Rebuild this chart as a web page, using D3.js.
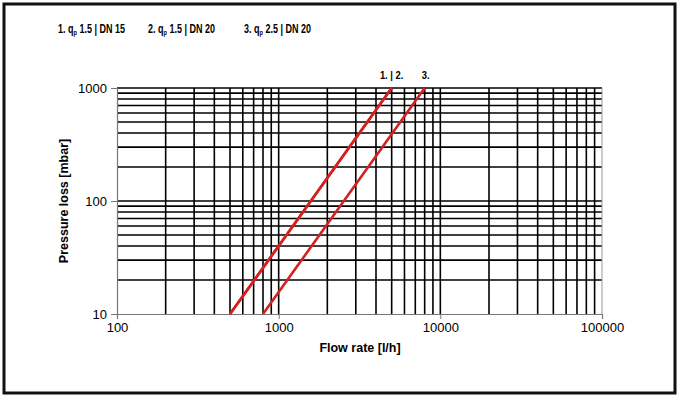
<!DOCTYPE html>
<html><head><meta charset="utf-8">
<script src="https://cdn.jsdelivr.net/npm/d3@7"></script>
<style>
body{margin:0;background:#fff;}
svg{display:block;}
text{font-family:Arial,"Liberation Sans",sans-serif;}
</style></head>
<body><svg id="c" width="679" height="399"></svg>
<script>
const legendLabels = ["1. q{p} 1.5 | DN 15", "2. q{p} 1.5 | DN 20", "3. q{p} 2.5 | DN 20"];
const series1Flow = [500, 5000];
const series1Loss = [10, 1000];
const series2Flow = [500, 5000];
const series2Loss = [10, 1000];
const series3Flow = [800, 8000];
const series3Loss = [10, 1000];
const xTicks = [100, 1000, 10000, 100000];
const yTicks = [10, 100, 1000];
const xTitle = "Flow rate [l/h]";
const yTitle = "Pressure loss [mbar]";

const svg = d3.select("#c");
svg.append("rect").attr("x",4).attr("y",4).attr("width",671).attr("height",389)
  .attr("fill","#fff").attr("stroke","#111").attr("stroke-width",3);

const x = d3.scaleLog().domain([100,100000]).range([117,602]);
const y = d3.scaleLog().domain([10,1000]).range([314,88]);

const xGrid = [];
for (let d=100; d<100000; d*=10) for (let k=1;k<10;k++) xGrid.push(d*k);
xGrid.push(100000);
const yGrid = [];
for (let d=10; d<1000; d*=10) for (let k=1;k<10;k++) yGrid.push(d*k);
yGrid.push(1000);

const g = svg.append("g");
g.selectAll(".vg").data(xGrid.filter(v=>v>100 && v<100000)).join("line")
  .attr("x1",d=>x(d)).attr("x2",d=>x(d)).attr("y1",y(10)).attr("y2",y(1000))
  .attr("stroke","#000").attr("stroke-width",1.6);
g.selectAll(".hg").data(yGrid.filter(v=>v>10)).join("line")
  .attr("y1",d=>y(d)).attr("y2",d=>y(d)).attr("x1",x(100)).attr("x2",x(100000))
  .attr("stroke","#000").attr("stroke-width",1.6);
g.append("line").attr("x1",x(100000)).attr("x2",x(100000)).attr("y1",y(10)).attr("y2",y(1000))
  .attr("stroke","#999").attr("stroke-width",1);

const xAxis = d3.axisBottom(x).tickValues(xTicks).tickFormat(d3.format("d")).tickSize(5).tickPadding(4);
const yAxis = d3.axisLeft(y).tickValues(yTicks).tickFormat(d3.format("d")).tickSize(6).tickPadding(4);
const gx = svg.append("g").attr("transform",`translate(0,${y(10)})`).call(xAxis);
const gy = svg.append("g").attr("transform",`translate(${x(100)},0)`).call(yAxis);
[gx,gy].forEach(a=>{
  a.select(".domain").attr("stroke","#777").attr("stroke-width",1.2);
  a.selectAll(".tick line").attr("stroke","#777");
  a.selectAll("text").attr("font-size",13).attr("fill","#000").style("font-family","Arial,'Liberation Sans',sans-serif");
});

const line = d3.line().x(d=>x(d[0])).y(d=>y(d[1]));
const series = [
  series1Flow.map((f,i)=>[f,series1Loss[i]]),
  series2Flow.map((f,i)=>[f,series2Loss[i]]),
  series3Flow.map((f,i)=>[f,series3Loss[i]])
];
svg.selectAll(".ser").data(series).join("path")
  .attr("d",line).attr("fill","none").attr("stroke","#d42020").attr("stroke-width",2.6);

svg.append("text").attr("x",360).attr("y",352).attr("text-anchor","middle")
  .attr("font-size",12.5).attr("font-weight","bold").text(xTitle);
svg.append("text").attr("transform",`translate(68,${y(100)}) rotate(-90)`).attr("text-anchor","middle")
  .attr("font-size",12.5).attr("font-weight","bold").text(yTitle);

const legX = [58, 148, 244];
legendLabels.forEach((lab,i)=>{
  const m = lab.match(/^(.*)\{(.*)\}(.*)$/);
  const t = svg.append("g").attr("transform",`translate(${legX[i]},33) scale(0.75,1)`)
    .append("text").attr("x",0).attr("y",0)
    .attr("font-size",12).attr("font-weight","bold");
  t.append("tspan").text(m[1]);
  t.append("tspan").attr("font-size",7.5).attr("dy",2).text(m[2]);
  t.append("tspan").attr("dy",-2).text(m[3]);
});

function endLabel(cx, txt){
  svg.append("g").attr("transform",`translate(${cx},79) scale(0.82,1)`)
    .append("text").attr("text-anchor","middle").attr("font-size",11.5).attr("font-weight","bold").text(txt);
}
endLabel(x(series1Flow[1]), "1. | 2.");
endLabel(x(series3Flow[1])+1, "3.");
</script></body></html>
